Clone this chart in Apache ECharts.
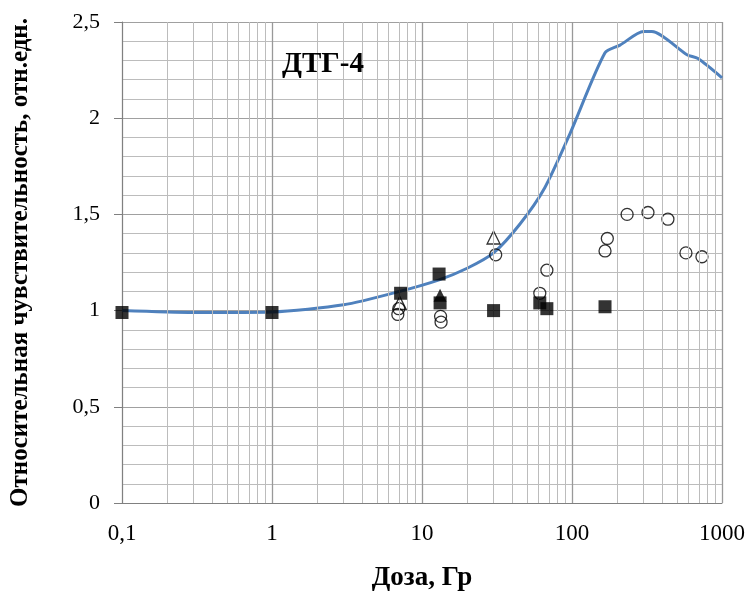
<!DOCTYPE html>
<html>
<head>
<meta charset="utf-8">
<script src="https://cdn.jsdelivr.net/npm/echarts@6/dist/echarts.min.js"></script>
<style>
  html, body { margin: 0; padding: 0; background: #fff; }
  #chart { width: 752px; height: 594px; }
</style>
</head>
<body>
<div id="chart"></div>
<script>
// blue curve (dose, relative sensitivity)
const curve = [
  [0.1, 1.0], [0.3, 0.99], [1, 0.993], [3, 1.03], [7.1, 1.1], [13, 1.16],
  [20, 1.22], [30, 1.3], [45, 1.45], [66, 1.64], [97, 1.92], [166, 2.34],
  [209, 2.38], [300, 2.45], [340, 2.45], [584, 2.33], [692, 2.31], [1000, 2.21]
]
// filled squares
const squares = [
  [0.1, 0.99], [1, 0.99], [7.2, 1.09], [13, 1.19], [13.2, 1.04],
  [30, 1.0], [61, 1.04], [68, 1.01], [166, 1.02]
]
// open circles
const circles = [
  [7, 1.01], [6.9, 0.98], [13.3, 0.97], [13.4, 0.94], [31, 1.29],
  [61, 1.09], [68, 1.21], [166, 1.31], [172, 1.375], [233, 1.5],
  [321, 1.51], [436, 1.475], [575, 1.3], [735, 1.28]
]
// open triangles
const triOpen = [[30, 1.38], [7.1, 1.04]]
// filled triangle
const triFilled = [[13.2, 1.08]]

// log-axis minor grid positions
const minorX = [2, 3, 4, 5, 6, 7, 8, 9].flatMap(k => [0.1 * k, k, 10 * k, 100 * k])

const yTicks = { 0: '0', 0.5: '0,5', 1: '1', 1.5: '1,5', 2: '2', 2.5: '2,5' }
const xTicks = { 0.1: '0,1', 1: '1', 10: '10', 100: '100', 1000: '1000' }

const serif = '"Liberation Serif", "DejaVu Serif", serif'
const chart = echarts.init(document.getElementById('chart'))

chart.setOption({
  animation: false,
  textStyle: { fontFamily: serif },
  title: {
    text: 'ДТГ-4', left: 277, top: 45,
    textStyle: { fontFamily: serif, fontSize: 29, fontWeight: 'bold', color: '#000' }
  },
  grid: { left: 122, right: 30, top: 22, bottom: 91, outerBoundsMode: 'none', containLabel: false },
  xAxis: {
    type: 'log', logBase: 10, min: 0.1, max: 1000,
    name: 'Доза, Гр', nameLocation: 'middle', nameGap: 62,
    nameTextStyle: { fontFamily: serif, fontSize: 27, fontWeight: 'bold', color: '#000' },
    axisLine: { lineStyle: { color: '#808080', width: 1 } },
    axisTick: { show: false },
    axisLabel: {
      fontFamily: serif, fontSize: 23, color: '#000', margin: 19,
      formatter: v => xTicks[+v.toPrecision(3)] ?? ''
    },
    splitLine: { show: true, lineStyle: { color: '#999', width: 1.3 } }
  },
  yAxis: {
    type: 'value', min: 0, max: 2.5, interval: 0.5,
    name: 'Относительная чувствительность, отн.едн.',
    nameLocation: 'middle', nameGap: 89,
    nameTextStyle: { fontFamily: serif, fontSize: 25, fontWeight: 'bold', color: '#000' },
    axisLine: { show: true, lineStyle: { color: '#808080' } },
    axisTick: { show: true, length: 8, lineStyle: { color: '#808080' } },
    axisLabel: {
      fontFamily: serif, fontSize: 22, color: '#000', margin: 22,
      formatter: v => yTicks[+v.toFixed(1)] ?? ''
    },
    splitLine: { show: true, lineStyle: { color: '#a0a0a0', width: 1 } },
    minorSplitLine: { show: true, lineStyle: { color: '#bcbcbc', width: 1 } },
    minorTick: { show: false, splitNumber: 5 }
  },
  series: [
    {
      type: 'line', data: curve, showSymbol: false, smooth: 0.25, z: 3,
      lineStyle: { color: '#4f81bd', width: 3 },
      markLine: {
        silent: true, symbol: 'none', label: { show: false },
        lineStyle: { color: '#bcbcbc', width: 1, type: 'solid' },
        data: minorX.map(v => ({ xAxis: v }))
      }
    },
    {
      type: 'scatter', data: circles, symbol: 'circle', symbolSize: 12, z: 4,
      itemStyle: { color: 'rgba(255,255,255,0)', borderColor: '#000', borderWidth: 1.3 }
    },
    {
      type: 'scatter', data: triOpen, symbol: 'triangle', symbolSize: 13, z: 4,
      itemStyle: { color: 'rgba(255,255,255,0)', borderColor: '#000', borderWidth: 1.3 }
    },
    {
      type: 'scatter', data: triFilled, symbol: 'triangle', symbolSize: 13, z: 5,
      itemStyle: { color: '#000' }
    },
    {
      type: 'scatter', data: squares, symbol: 'rect', symbolSize: 13, z: 6,
      itemStyle: { color: '#000' }
    }
  ]
})
</script>
</body>
</html>
